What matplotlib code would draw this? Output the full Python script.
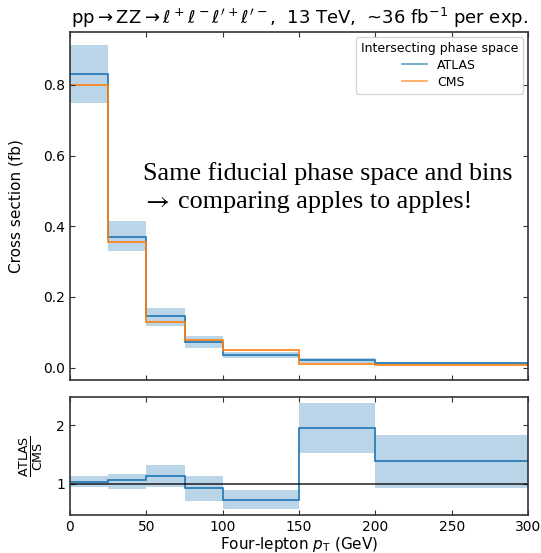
import numpy as np
import matplotlib
matplotlib.use("Agg")
import matplotlib.pyplot as plt

edges = [0, 25, 50, 75, 100, 150, 200, 300]
atlas = [0.831, 0.371, 0.145, 0.0726, 0.036, 0.0217, 0.012]
atlas_lo = [0.749, 0.329, 0.119, 0.0556, 0.026, 0.013, 0.008]
atlas_hi = [0.913, 0.414, 0.170, 0.0886, 0.043, 0.026, 0.016]
cms = [0.800, 0.355, 0.128, 0.077, 0.049, 0.0111, 0.0087]
ratio = [1.04, 1.063, 1.13, 0.926, 0.73, 1.95, 1.39]
ratio_lo = [0.943, 0.92, 0.94, 0.714, 0.566, 1.52, 0.93]
ratio_hi = [1.137, 1.17, 1.33, 1.137, 0.90, 2.38, 1.835]

plt.rcParams['font.family'] = ['DejaVu Sans']
W, H = 541, 553
fig = plt.figure(figsize=(W/100, H/100), dpi=100)
ax = fig.add_axes([70/W, 1-380/H, 458/W, 348/H])
axr = fig.add_axes([70/W, 1-515/H, 458/W, 118/H], sharex=ax)

spine_col = '#333333'
for a in (ax, axr):
    a.tick_params(direction='in', top=True, right=True, labelsize=10, color=spine_col)
    for s in a.spines.values():
        s.set_color(spine_col)
        s.set_linewidth(1.2)

ax.stairs(atlas_hi, edges, baseline=atlas_lo, fill=True, color='C0', alpha=0.3, lw=0)
ax.stairs(atlas, edges, color='C0', lw=1.2, label='ATLAS', baseline=None)
ax.stairs(cms, edges, color='C1', lw=1.2, label='CMS', baseline=None)
ax.set_xlim(0, 300)
ax.set_ylim(-0.035, 0.95)
ax.set_yticks([0.0, 0.2, 0.4, 0.6, 0.8])
ax.set_ylabel('Cross section (fb)', fontsize=11, labelpad=14)
plt.setp(ax.get_xticklabels(), visible=False)
leg = ax.legend(title='Intersecting phase space', loc='upper right', fontsize=9,
                title_fontsize=9, borderaxespad=0.4, labelspacing=0.3)
for h in leg.get_lines():
    h.set_alpha(0.7)
ax.set_title(r"pp$\rightarrow$ZZ$\rightarrow\ell^+\ell^-\ell'^+\ell'^-$,  13 TeV,  ~36 fb$^{-1}$ per exp.",
             fontsize=13, pad=6)

def px(x, y):
    return x / W, 1 - y / H

fig.text(*px(143, 180), 'Same fiducial phase space and bins', family='Liberation Serif',
         fontsize=18.8, va='baseline', ha='left')
fig.text(*px(142, 208), r'$\rightarrow$', math_fontfamily='stix', fontsize=18.8,
         va='baseline', ha='left')
fig.text(*px(178, 208), 'comparing apples to apples!', family='Liberation Serif',
         fontsize=18.8, va='baseline', ha='left')

axr.stairs(ratio_hi, edges, baseline=ratio_lo, fill=True, color='C0', alpha=0.3, lw=0)
axr.stairs(ratio, edges, color='C0', lw=1.2, baseline=None)
axr.axhline(1, color='black', lw=1.2, alpha=0.8)
axr.set_ylim(0.47, 2.48)
axr.set_yticks([1, 2])
axr.set_xticks([0, 50, 100, 150, 200, 250, 300])
axr.set_ylabel(r'$\frac{\mathrm{ATLAS}}{\mathrm{CMS}}$', fontsize=13, labelpad=8)
axr.set_xlabel(r'Four-lepton $p_\mathrm{T}$ (GeV)', fontsize=11, labelpad=1)

fig.savefig('out.png', dpi=100)
